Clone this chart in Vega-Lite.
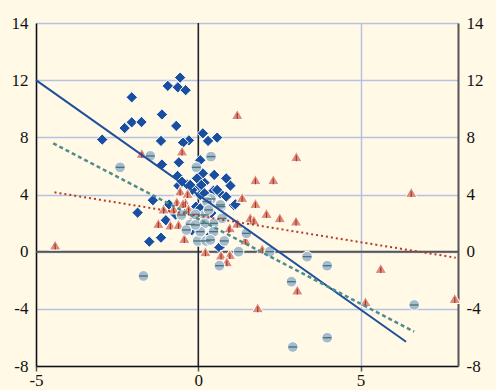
{
  "$schema": "https://vega.github.io/schema/vega-lite/v6.json",
  "width": 422,
  "height": 343,
  "autosize": "none",
  "padding": {"left": 36, "top": 23, "right": 38, "bottom": 24},
  "background": "#fff9e6",
  "config": {
    "view": {"stroke": null, "fill": "#fff9e6"},
    "axis": {"labelFont": "Liberation Serif", "labelFontSize": 17, "labelColor": "#111"}
  },
  "datasets": {
    "diamonds": [
      {"x": -0.56, "y": 12.18}, {"x": -0.94, "y": 11.6}, {"x": -0.63, "y": 11.5}, {"x": -0.39, "y": 11.3},
      {"x": -2.05, "y": 10.8}, {"x": -1.12, "y": 9.6}, {"x": -2.05, "y": 9.05}, {"x": -1.75, "y": 9.07},
      {"x": -2.27, "y": 8.65}, {"x": -0.68, "y": 8.8}, {"x": -2.96, "y": 7.84}, {"x": -1.15, "y": 7.75},
      {"x": -0.29, "y": 7.79}, {"x": -0.47, "y": 7.63}, {"x": 0.14, "y": 8.28}, {"x": 0.3, "y": 7.75},
      {"x": 0.58, "y": 7.98}, {"x": -1.12, "y": 6.1}, {"x": -0.6, "y": 6.25}, {"x": 0.06, "y": 6.4},
      {"x": -0.64, "y": 5.3}, {"x": 0.49, "y": 5.37}, {"x": 0.86, "y": 5.13}, {"x": 0.99, "y": 4.62},
      {"x": 0.19, "y": 4.83}, {"x": 0.14, "y": 5.48}, {"x": 0.47, "y": 4.27}, {"x": 0.68, "y": 4.08},
      {"x": 0.86, "y": 3.85}, {"x": 0.01, "y": 4.55}, {"x": -0.19, "y": 4.32}, {"x": -0.35, "y": 4.71},
      {"x": -0.61, "y": 4.62}, {"x": -0.5, "y": 4.9}, {"x": -1.4, "y": 3.6}, {"x": -1.87, "y": 2.73},
      {"x": -1.51, "y": 0.7}, {"x": -1.15, "y": 0.98}, {"x": 0.65, "y": 0.3}, {"x": 1.09, "y": 3.27},
      {"x": 0.06, "y": 3.97}, {"x": -0.07, "y": 3.15}, {"x": -0.04, "y": 5.13}, {"x": 0.09, "y": 4.67},
      {"x": -0.25, "y": 4.67}, {"x": 0.19, "y": 4.08}, {"x": 0.58, "y": 4.32}, {"x": 1.14, "y": 3.31},
      {"x": 0.06, "y": 3.03}, {"x": -0.9, "y": 3.3}, {"x": -0.7, "y": 2.6}, {"x": -1.0, "y": 2.2},
      {"x": -0.3, "y": 2.9}, {"x": 0.4, "y": 2.7}, {"x": -0.2, "y": 1.5}, {"x": 0.3, "y": 1.0}
    ],
    "triangles": [
      {"x": -1.74, "y": 6.88}, {"x": -0.5, "y": 7.05}, {"x": 1.2, "y": 9.6}, {"x": 3.02, "y": 6.65},
      {"x": 1.76, "y": 5.04}, {"x": 2.31, "y": 5.04}, {"x": 6.56, "y": 4.15}, {"x": -4.41, "y": 0.47},
      {"x": 1.35, "y": 3.8}, {"x": 1.76, "y": 3.38}, {"x": 2.1, "y": 2.68}, {"x": 2.51, "y": 2.38},
      {"x": 3.01, "y": 2.15}, {"x": 1.6, "y": 2.38}, {"x": 1.71, "y": 2.22}, {"x": 0.94, "y": 1.63},
      {"x": 1.97, "y": 0.2}, {"x": 5.62, "y": -1.17}, {"x": 3.05, "y": -2.68}, {"x": 1.83, "y": -3.92},
      {"x": 5.15, "y": -3.5}, {"x": 7.9, "y": -3.27}, {"x": 0.22, "y": 0.0}, {"x": 0.7, "y": -0.23},
      {"x": 0.97, "y": -0.19}, {"x": 0.88, "y": -0.7}, {"x": 0.97, "y": 1.68}, {"x": 1.45, "y": 0.82},
      {"x": -0.56, "y": 4.25}, {"x": -0.33, "y": 4.08}, {"x": -0.66, "y": 3.5}, {"x": -0.4, "y": 3.45},
      {"x": -1.07, "y": 2.99}, {"x": -0.76, "y": 2.99}, {"x": -1.23, "y": 1.98}, {"x": -0.86, "y": 1.87},
      {"x": -0.61, "y": 1.91}, {"x": -0.43, "y": 0.93}, {"x": -0.47, "y": 3.38}, {"x": -0.2, "y": 2.3},
      {"x": 0.1, "y": 1.2}, {"x": 1.2, "y": 2.0}, {"x": -0.3, "y": 3.0}
    ],
    "circles": [
      {"x": -1.48, "y": 6.7}, {"x": -2.41, "y": 5.9}, {"x": 0.39, "y": 6.65}, {"x": -0.06, "y": 5.9},
      {"x": -1.69, "y": -1.7}, {"x": -0.52, "y": 2.57}, {"x": -0.25, "y": 1.91}, {"x": 0.19, "y": 2.57},
      {"x": 0.39, "y": 3.69}, {"x": 0.7, "y": 3.15}, {"x": 0.73, "y": 2.33}, {"x": 0.47, "y": 1.98},
      {"x": 0.19, "y": 1.98}, {"x": -0.02, "y": 0.75}, {"x": 0.24, "y": 0.75}, {"x": 0.8, "y": 0.75},
      {"x": 0.65, "y": -0.98}, {"x": 1.24, "y": 0.0}, {"x": 1.48, "y": 1.28}, {"x": 0.47, "y": 1.4},
      {"x": 2.2, "y": 0.0}, {"x": 3.35, "y": -0.35}, {"x": 2.87, "y": -2.1}, {"x": 2.91, "y": -6.67},
      {"x": 3.97, "y": -0.98}, {"x": 3.97, "y": -6.02}, {"x": 6.65, "y": -3.73}, {"x": 0.68, "y": 3.27},
      {"x": 0.27, "y": 3.5}, {"x": 0.32, "y": 2.92}, {"x": 0.06, "y": 1.4}, {"x": 0.37, "y": 0.82},
      {"x": -0.09, "y": 2.61}, {"x": -0.37, "y": 1.52}, {"x": -0.09, "y": 1.87}
    ],
    "fits": [
      {"series": "blue", "x": -5, "y": 12}, {"series": "blue", "x": 6.4, "y": -6.3},
      {"series": "teal", "x": -4.47, "y": 7.58}, {"series": "teal", "x": 6.65, "y": -5.6},
      {"series": "red", "x": -4.43, "y": 4.15}, {"series": "red", "x": 7.93, "y": -0.42}
    ]
  },
  "resolve": {"axis": {"y": "independent"}},
  "layer": [
    {
      "data": {"values": [{"x": -5, "x2": 8, "y": 0}]},
      "mark": {"type": "rule", "color": "#555", "strokeWidth": 2},
      "encoding": {
        "x": {"field": "x", "type": "quantitative", "scale": {"domain": [-5, 8], "nice": false, "zero": false},
          "axis": {"values": [-5, 0, 5], "grid": true, "gridColor": "#b7c2e2", "gridWidth": 1.5,
            "domainColor": "#111", "domainWidth": 1.5, "tickColor": "#555", "tickSize": 5, "tickWidth": 1.5,
            "labelPadding": 1, "labelFlush": false, "title": null, "labelExpr": "replace(datum.label, '−', '-')"}},
        "x2": {"field": "x2"},
        "y": {"field": "y", "type": "quantitative", "scale": {"domain": [-8, 16], "nice": false, "zero": false},
          "axis": {"orient": "left", "values": [-8, -4, 0, 4, 8, 12, 16], "grid": true, "gridColor": "#b7c2e2",
            "gridWidth": 1.5, "domainColor": "#111", "domainWidth": 1.5, "ticks": false, "labelPadding": 8,
            "title": null, "labelExpr": "datum.value == 16 ? '14' : replace(datum.label, '−', '-')"}}
      }
    },
    {
      "data": {"values": [{"x": 0, "y": -8, "y2": 16}]},
      "mark": {"type": "rule", "color": "#222", "strokeWidth": 1.5},
      "encoding": {
        "x": {"field": "x", "type": "quantitative"},
        "y": {"field": "y", "type": "quantitative",
          "axis": {"orient": "right", "values": [-8, -4, 0, 4, 8, 12, 16], "grid": false,
            "domainColor": "#555", "domainWidth": 2, "ticks": false, "labelPadding": 8,
            "title": null, "labelExpr": "datum.value == 16 ? '14' : replace(datum.label, '−', '-')"}},
        "y2": {"field": "y2"}
      }
    },
    {
      "data": {"name": "diamonds"},
      "mark": {"type": "point", "shape": "diamond", "filled": true, "size": 130, "color": "#1a4f9f",
        "stroke": "#ffffff", "strokeWidth": 1, "opacity": 1},
      "encoding": {
        "x": {"field": "x", "type": "quantitative"},
        "y": {"field": "y", "type": "quantitative", "axis": null}
      }
    },
    {
      "data": {"name": "triangles"},
      "mark": {"type": "point", "shape": "triangle-up", "filled": true, "size": 135, "color": "#de8c76",
        "stroke": "#ffffff", "strokeWidth": 1, "opacity": 1},
      "encoding": {
        "x": {"field": "x", "type": "quantitative"},
        "y": {"field": "y", "type": "quantitative", "axis": null}
      }
    },
    {
      "data": {"name": "triangles"},
      "mark": {"type": "point", "shape": "M-0.1,-0.2L0.1,-0.2L0.1,0.8L-0.1,0.8Z", "filled": true, "size": 135,
        "color": "#a83428", "strokeWidth": 0, "opacity": 1},
      "encoding": {
        "x": {"field": "x", "type": "quantitative"},
        "y": {"field": "y", "type": "quantitative", "axis": null}
      }
    },
    {
      "data": {"name": "circles"},
      "mark": {"type": "point", "shape": "circle", "filled": true, "size": 115, "color": "#a7bcc9",
        "stroke": "#ffffff", "strokeWidth": 1, "opacity": 1},
      "encoding": {
        "x": {"field": "x", "type": "quantitative"},
        "y": {"field": "y", "type": "quantitative", "axis": null}
      }
    },
    {
      "data": {"name": "circles"},
      "mark": {"type": "point", "shape": "M-0.8,-0.13L0.8,-0.13L0.8,0.13L-0.8,0.13Z", "filled": true, "size": 115,
        "color": "#4d7383", "strokeWidth": 0, "opacity": 1},
      "encoding": {
        "x": {"field": "x", "type": "quantitative"},
        "y": {"field": "y", "type": "quantitative", "axis": null}
      }
    },
    {
      "data": {"name": "fits"},
      "transform": [{"filter": "datum.series == 'blue'"}],
      "mark": {"type": "line", "color": "#1f4e9c", "strokeWidth": 2},
      "encoding": {
        "x": {"field": "x", "type": "quantitative"},
        "y": {"field": "y", "type": "quantitative", "axis": null}
      }
    },
    {
      "data": {"name": "fits"},
      "transform": [{"filter": "datum.series == 'teal'"}],
      "mark": {"type": "line", "color": "#4f8c8e", "strokeWidth": 2.5, "strokeDash": [4, 3]},
      "encoding": {
        "x": {"field": "x", "type": "quantitative"},
        "y": {"field": "y", "type": "quantitative", "axis": null}
      }
    },
    {
      "data": {"name": "fits"},
      "transform": [{"filter": "datum.series == 'red'"}],
      "mark": {"type": "line", "color": "#b63a2c", "strokeWidth": 2, "strokeDash": [2, 3]},
      "encoding": {
        "x": {"field": "x", "type": "quantitative"},
        "y": {"field": "y", "type": "quantitative", "axis": null}
      }
    }
  ]
}
